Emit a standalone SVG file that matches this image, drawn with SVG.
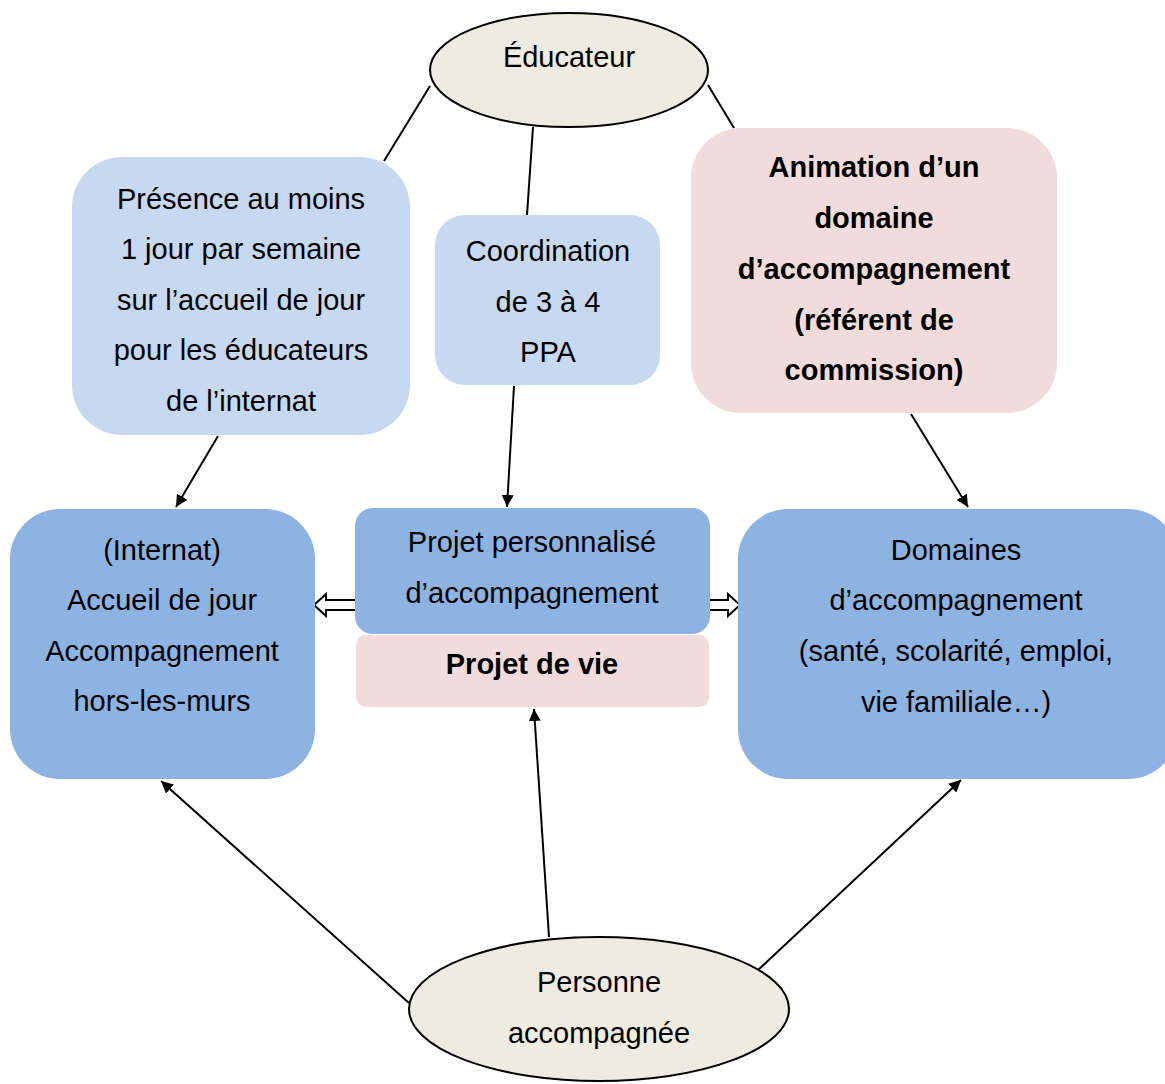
<svg xmlns="http://www.w3.org/2000/svg" width="1165" height="1084" viewBox="0 0 1165 1084">
<defs>
<marker id="ah" viewBox="0 0 10 10" refX="10" refY="5" markerWidth="12" markerHeight="12" markerUnits="userSpaceOnUse" orient="auto">
<path d="M0,0 L10,5 L0,10 z" fill="#000"/>
</marker>
<style>
text{font-family:"Liberation Sans",Arial,sans-serif;font-size:29px;fill:#000;text-anchor:middle}
.b{font-weight:bold}
.ell{fill:#eeece1;stroke:#000;stroke-width:2}
.lb{fill:#c6d9f0}
.mb{fill:#8db3e2}
.pk{fill:#f2dcdb}
.ln{stroke:#000;stroke-width:2;fill:none}
.ar{stroke:#000;stroke-width:2;fill:none;marker-end:url(#ah)}
.ho{fill:#fff;stroke:#000;stroke-width:2}
</style>
</defs>
<rect width="1165" height="1084" fill="#fff"/>
<g id="connectors">
<line class="ln" x1="430" y1="86" x2="384" y2="161"/>
<line class="ln" x1="533" y1="127" x2="527" y2="215"/>
<line class="ln" x1="708" y1="85" x2="734" y2="128"/>
<line class="ar" x1="218" y1="436" x2="176" y2="507"/>
<line class="ar" x1="514" y1="386" x2="507" y2="507"/>
<line class="ar" x1="911" y1="414" x2="968" y2="507"/>
<line class="ar" x1="409" y1="1003" x2="161" y2="781"/>
<line class="ar" x1="549" y1="937" x2="534" y2="709"/>
<line class="ar" x1="758" y1="970" x2="961" y2="780"/>
<polygon class="ho" points="356,600 326,600 326,594 314,605 326,616 326,610 356,610"/>
<polygon class="ho" points="708,600 728,600 728,594 740,605 728,616 728,610 708,610"/>
</g>
<g id="presence">
<rect class="lb" x="72" y="157" width="338" height="278" rx="50"/>
<text x="241" y="209">Présence au moins</text>
<text x="241" y="259">1 jour par semaine</text>
<text x="241" y="310">sur l’accueil de jour</text>
<text x="241" y="360">pour les éducateurs</text>
<text x="241" y="411">de l’internat</text>
</g>
<g id="coordination">
<rect class="lb" x="435" y="215" width="225" height="170" rx="30"/>
<text x="548" y="261">Coordination</text>
<text x="548" y="312">de 3 à 4</text>
<text x="548" y="362">PPA</text>
</g>
<g id="animation">
<rect class="pk" x="691" y="128" width="366" height="285" rx="50"/>
<text class="b" x="874" y="177">Animation d’un</text>
<text class="b" x="874" y="228">domaine</text>
<text class="b" x="874" y="279">d’accompagnement</text>
<text class="b" x="874" y="330">(référent de</text>
<text class="b" x="874" y="380">commission)</text>
</g>
<g id="educateur">
<ellipse class="ell" cx="569" cy="70" rx="139" ry="57"/>
<text x="569" y="67">Éducateur</text>
</g>
<g id="internat">
<rect class="mb" x="10" y="509" width="305" height="270" rx="50"/>
<text x="162" y="560">(Internat)</text>
<text x="162" y="610">Accueil de jour</text>
<text x="162" y="661">Accompagnement</text>
<text x="162" y="711">hors-les-murs</text>
</g>
<g id="ppa">
<rect class="mb" x="355" y="508" width="355" height="126" rx="18"/>
<text x="532" y="552">Projet personnalisé</text>
<text x="532" y="603">d’accompagnement</text>
</g>
<g id="projet-vie">
<rect class="pk" x="356" y="635" width="353" height="72" rx="10"/>
<text class="b" x="532" y="674">Projet de vie</text>
</g>
<g id="domaines">
<rect class="mb" x="738" y="509" width="440" height="270" rx="50"/>
<text x="956" y="560">Domaines</text>
<text x="956" y="610">d’accompagnement</text>
<text x="956" y="661">(santé, scolarité, emploi,</text>
<text x="956" y="712">vie familiale…)</text>
</g>
<g id="personne">
<ellipse class="ell" cx="599" cy="1009" rx="190" ry="72"/>
<text x="599" y="992">Personne</text>
<text x="599" y="1043">accompagnée</text>
</g>
</svg>
